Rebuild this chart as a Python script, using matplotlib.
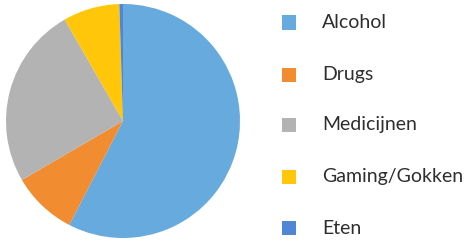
import matplotlib.pyplot as plt
from matplotlib.patches import Rectangle

labels = ['Alcohol', 'Drugs', 'Medicijnen', 'Gaming/Gokken', 'Eten']
values = [57.6, 9.0, 25.1, 7.8, 0.5]
colors = ['#66aade', '#f28c30', '#b3b3b3', '#ffc60a', '#4f86d6']

W, H = 466, 241
fig = plt.figure(figsize=(W / 100, H / 100), dpi=100)

# pie, centre ~ (123, 121) px, radius ~117 px
ax = fig.add_axes([6 / W, 3 / H, 234 / W, 234 / H])
ax.pie(values, colors=colors, startangle=90, counterclock=False,
       radius=1, wedgeprops=dict(linewidth=0))
ax.set_xlim(-1, 1)
ax.set_ylim(-1, 1)
ax.set_aspect('equal')
ax.axis('off')

# legend drawn by hand
row_y = [22.5, 74.5, 124.5, 176.5, 228]
for lab, col, y in zip(labels, colors, row_y):
    fig.patches.append(Rectangle((282 / W, 1 - (y + 7) / H), 14 / W, 14 / H,
                                 transform=fig.transFigure, facecolor=col,
                                 edgecolor='none'))
    fig.text(322 / W, 1 - y / H, lab, fontsize=14, family='Lato',
             color='#2e2e2e', va='center', ha='left')

fig.savefig('out.png', dpi=100)
